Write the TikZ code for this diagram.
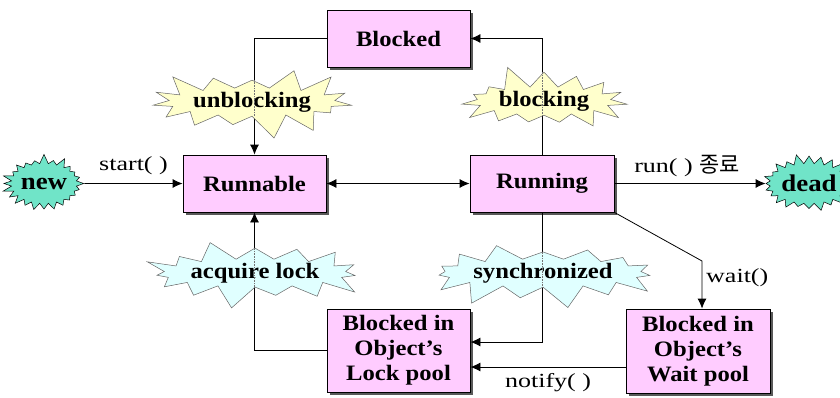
\documentclass[tikz,border=0pt]{standalone}
\usepackage{fontspec}
\setmainfont{Liberation Serif}
\newfontfamily\boldlbl{Liberation Serif}[FakeStretch=1.12]
\newfontfamily\reglbl{Liberation Serif}[FakeStretch=1.3]
\newfontfamily\krfont{Noto Sans CJK KR}[Scale=1.1]
\usetikzlibrary{arrows.meta,shapes.symbols,shadows}
\definecolor{boxpink}{RGB}{255,204,255}
\definecolor{burstyellow}{RGB}{255,255,204}
\definecolor{burstcyan}{RGB}{224,255,255}
\definecolor{bursteal}{RGB}{112,228,200}
\tikzset{
  statebox/.style={draw=black, fill=boxpink, line width=0.8pt,
    drop shadow={shadow xshift=3pt, shadow yshift=-3pt, fill=black!65, opacity=1},
    font=\boldlbl\bfseries\fontsize{22}{25}\selectfont, align=center, inner sep=0pt},
  burst/.style={shape=starburst, draw=black!60, line width=0.5pt, inner sep=0pt,
    font=\boldlbl\bfseries\fontsize{22}{25}\selectfont},
  endburst/.style={burst, fill=bursteal, draw=black, minimum width=62pt, minimum height=60pt,
    starburst points=24, starburst point height=10pt,
    font=\boldlbl\bfseries\fontsize{24}{26}\selectfont},
  midburst/.style={burst, minimum width=182pt, minimum height=66pt,
    starburst points=15, starburst point height=24pt},
  conn/.style={draw=black, line width=0.8pt, -{Latex[length=10pt,width=9pt]}},
  conn2/.style={draw=black, line width=0.8pt, {Latex[length=10pt,width=9pt]}-{Latex[length=10pt,width=9pt]}},
  through/.style={draw=black!55, line width=0.6pt, densely dotted},
  txt/.style={font=\reglbl\fontsize{20}{22}\selectfont, inner sep=0pt}
}
\begin{document}
\begin{tikzpicture}[x=1pt, y=-1pt]
\useasboundingbox (0,0) rectangle (840,397);

% state boxes
\node[statebox, minimum width=143pt, minimum height=57pt] (blocked) at (398.5,38.5) {Blocked};
\node[statebox, minimum width=143pt, minimum height=57pt] (runnable) at (254.5,183.5) {Runnable};
\node[statebox, minimum width=144pt, minimum height=57pt] (running) at (542,183.5) {Running};
\node[statebox, minimum width=143pt, minimum height=83pt] (lockpool) at (398.5,350.5) {Blocked in\\Object’s\\Lock pool};
\node[statebox, minimum width=144pt, minimum height=84pt] (waitpool) at (698,351) {Blocked in\\Object’s\\Wait pool};

% start and end states
\node[endburst, random starburst=7] (new) at (44,183.5) {new};
\node[endburst, random starburst=11, minimum width=66pt] (dead) at (809,183.5) {dead};

% transitions
\draw[conn] (new) -- node[txt, above=8pt] (startlbl) {start( )} (runnable.west);
\draw[conn] (running.east) -- node[txt, above=6pt, pos=0.48] (runlbl) {run( ) {\krfont 종료}} (dead);
\draw[conn2] (runnable.east) -- (running.west);
\draw[conn] (blocked.west) -| (runnable.north);
\draw[conn] (running.north) |- (blocked.east);
\draw[conn] (running.south) |- ([yshift=8.5pt]lockpool.east);
\draw[conn] (lockpool.west) -| (runnable.south);
\coordinate (waitbend) at (702,261);
\draw[conn] (running.south east) -- (waitbend) -- (waitbend |- waitpool.north);
\node[txt, anchor=west] (waitlbl) at (706,278) {wait()};
\draw[conn] ([yshift=-16pt]waitpool.west) -- ([yshift=-16pt]waitpool.west -| lockpool.east)
  node[txt, pos=0.5, below=6pt] (notifylbl) {notify( )};

% event bursts over the transitions
\node[midburst, fill=burstyellow, random starburst=3] (unblock) at (252,102) {unblocking};
\node[midburst, fill=burstyellow, random starburst=5] (block) at (544,101) {blocking};
\node[midburst, fill=burstcyan, random starburst=9] (acquire) at (255,273) {acquire lock};
\node[midburst, fill=burstcyan, random starburst=13] (sync) at (543,273) {synchronized};

\draw[through] (unblock.north -| runnable.north) -- (unblock.south -| runnable.north);
\draw[through] (block.north -| running.north) -- (block.south -| running.north);
\draw[through] (acquire.north -| runnable.south) -- (acquire.south -| runnable.south);
\draw[through] (sync.north -| running.south) -- (sync.south -| running.south);
\end{tikzpicture}
\end{document}
